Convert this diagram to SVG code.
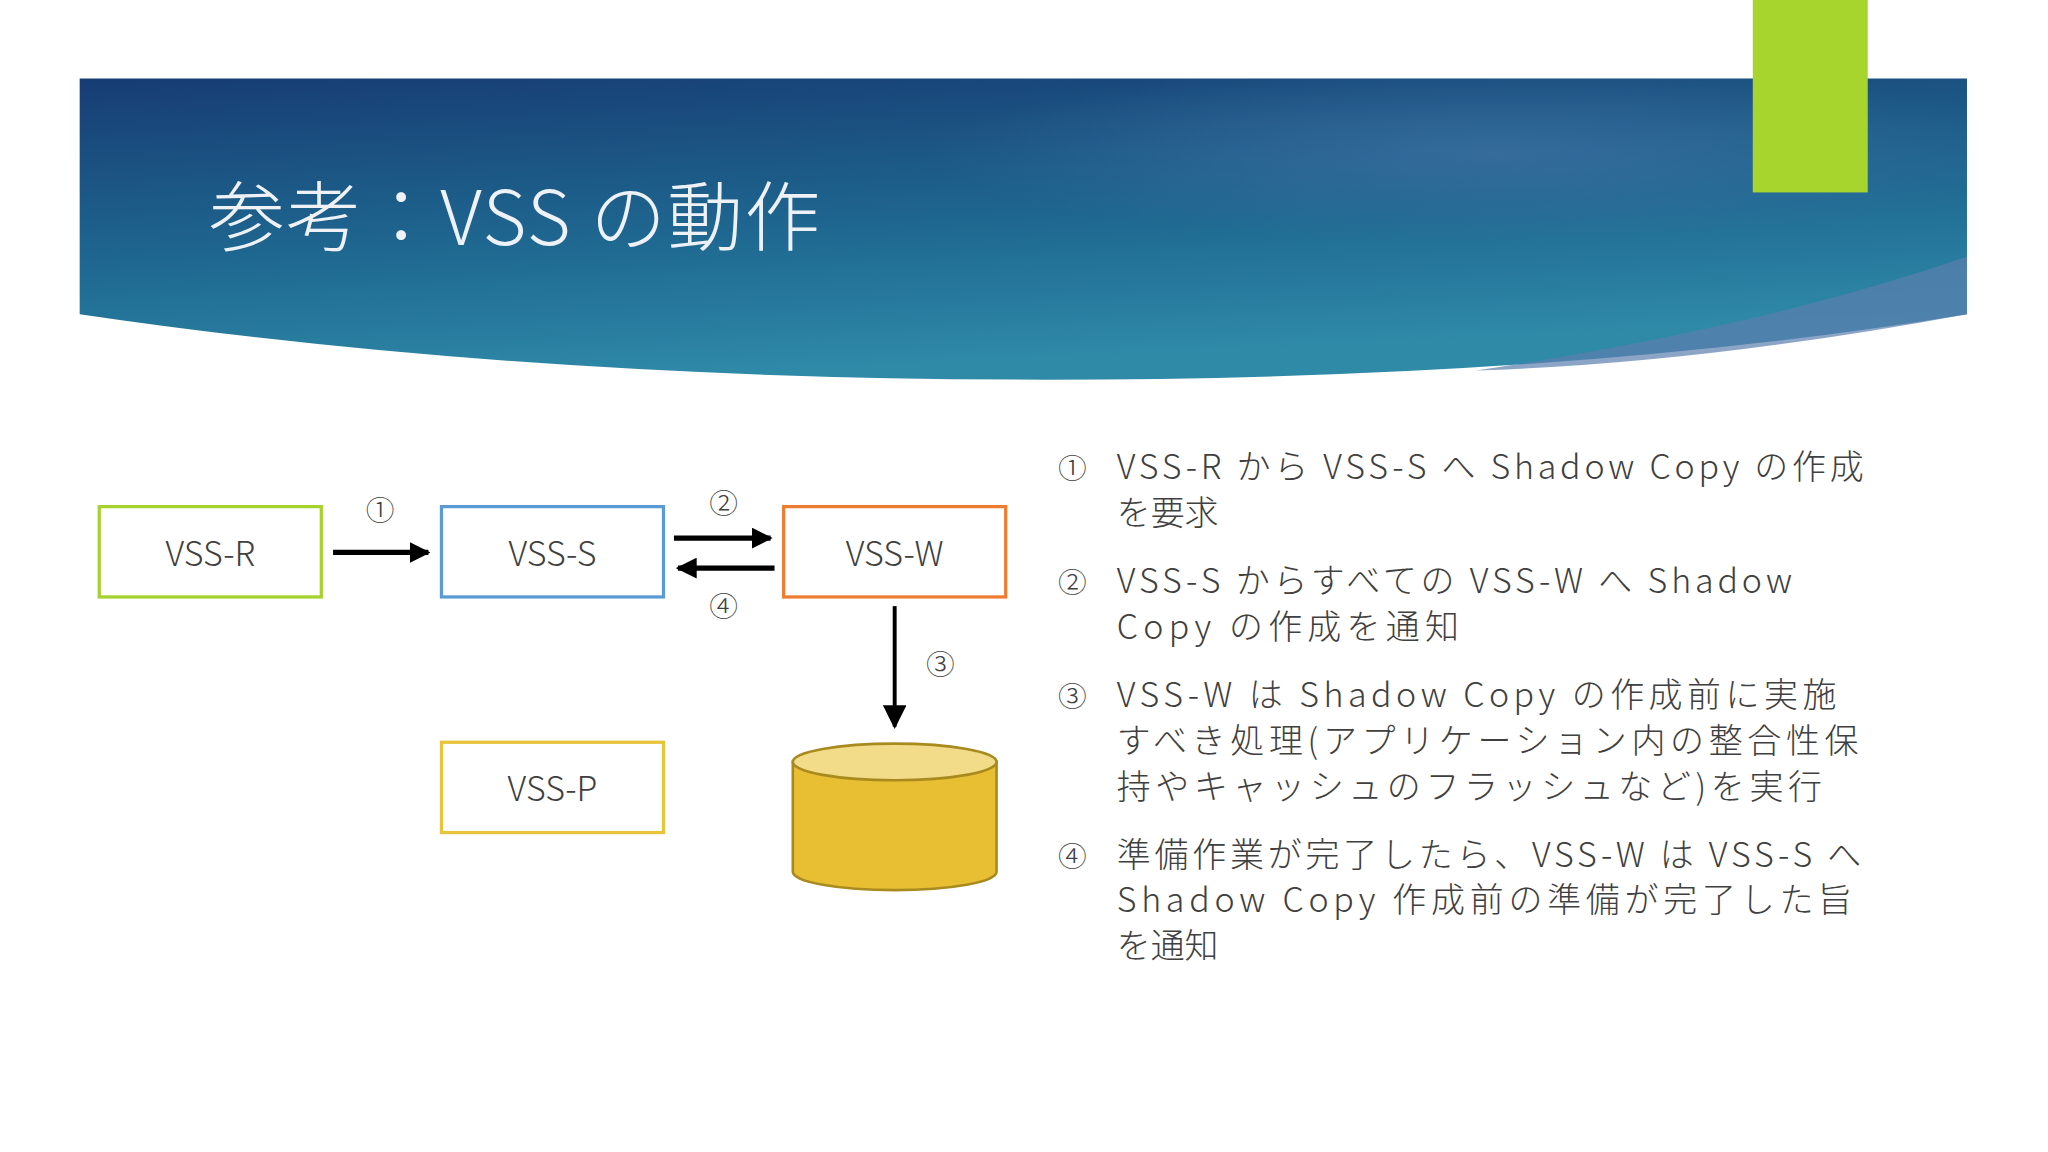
<svg xmlns="http://www.w3.org/2000/svg" width="2048" height="1152" viewBox="0 0 2048 1152">
<defs>
<linearGradient id="bg" x1="0" y1="0" x2="0.3" y2="1">
<stop offset="0" stop-color="#173d74"/><stop offset="0.6" stop-color="#1f6a92"/><stop offset="1" stop-color="#2f8aa8"/>
</linearGradient>
<radialGradient id="glow" cx="0.75" cy="0.25" r="0.3"><stop offset="0" stop-color="#3a6fa0" stop-opacity="0.8"/><stop offset="1" stop-color="#3a6fa0" stop-opacity="0"/></radialGradient>
<marker id="ah" viewBox="0 0 10 10" refX="9" refY="5" markerWidth="4" markerHeight="4" orient="auto"><path d="M0,0 L10,5 L0,10 z" fill="#000"/></marker>
<marker id="ah2" viewBox="0 0 10 10" refX="9" refY="5" markerWidth="6" markerHeight="6" orient="auto"><path d="M0,0 L10,5 L0,10 z" fill="#000"/></marker>
</defs>
<style>
.t{font-family:"Noto Sans CJK JP","Noto Sans",sans-serif;font-weight:300;fill:#404040}
.box{fill:#fff;stroke-width:2.5}
.c{stroke:#000;stroke-width:4;fill:none}
</style>
<rect width="2048" height="1152" fill="#fff"/>
<g transform="scale(1.3061,1.3091)">
<g id="banner">
<path d="M61,60 H1506 V240 Q1200,290 800,290 Q400,290 61,240 Z" fill="url(#bg)"/>
<path d="M61,60 H1506 V240 Q1200,290 800,290 Q400,290 61,240 Z" fill="url(#glow)"/>
<path d="M1130,283 Q1350,250 1506,196 V240 Q1300,278 1130,283 Z" fill="#5b7fae" opacity="0.7"/>
<rect x="1342" y="0" width="88" height="147" fill="#a8d42e"/>
<text x="160" y="187" font-family="Noto Sans CJK JP,sans-serif" font-weight="300" font-size="58" fill="#eef2f6" textLength="468">参考：VSS の動作</text>
</g>
<g id="vss-r"><rect class="box" x="76" y="387" width="170" height="69" stroke="#a6d22e"/><text class="t" x="161" y="432" font-size="26" text-anchor="middle" fill="#000">VSS-R</text></g>
<g id="vss-s"><rect class="box" x="338" y="387" width="170" height="69" stroke="#5b9bd5"/><text class="t" x="423" y="432" font-size="26" text-anchor="middle">VSS-S</text></g>
<g id="vss-w"><rect class="box" x="600" y="387" width="170" height="69" stroke="#ed7d31"/><text class="t" x="685" y="432" font-size="26" text-anchor="middle">VSS-W</text></g>
<g id="vss-p"><rect class="box" x="338" y="567" width="170" height="69" stroke="#e8c43a"/><text class="t" x="423" y="612" font-size="26" text-anchor="middle">VSS-P</text></g>
<g id="db">
<path d="M607,582 V666 A78,14 0 0 0 763,666 V582 Z" fill="#e8bf33" stroke="#a88a1e" stroke-width="2"/>
<ellipse cx="685" cy="582" rx="78" ry="14" fill="#f2dc8a" stroke="#a88a1e" stroke-width="2"/>
</g>
<g id="connectors">
<line class="c" x1="255" y1="422" x2="328" y2="422" marker-end="url(#ah)"/>
<line class="c" x1="516" y1="411" x2="590" y2="411" marker-end="url(#ah)"/>
<line class="c" x1="593" y1="434" x2="519" y2="434" marker-end="url(#ah)"/>
<line x1="685" y1="463" x2="685" y2="555" stroke="#000" stroke-width="3" marker-end="url(#ah2)"/>
<text class="t" x="291" y="398" font-size="22" text-anchor="middle" fill="#000">①</text>
<text class="t" x="554" y="393" font-size="22" text-anchor="middle" fill="#000">②</text>
<text class="t" x="554" y="471" font-size="22" text-anchor="middle" fill="#000">④</text>
<text class="t" x="720" y="516" font-size="22" text-anchor="middle" fill="#000">③</text>
</g>
<g id="notes" font-size="26">
<text class="t" x="810" y="366" font-size="22">①</text>
<text class="t" x="855" y="366" textLength="572">VSS-R から VSS-S へ Shadow Copy の作成</text>
<text class="t" x="855" y="401">を要求</text>
<text class="t" x="810" y="453" font-size="22">②</text>
<text class="t" x="855" y="453" textLength="517">VSS-S からすべての VSS-W へ Shadow</text>
<text class="t" x="855" y="488" textLength="262">Copy の作成を通知</text>
<text class="t" x="810" y="540" font-size="22">③</text>
<text class="t" x="855" y="540" textLength="551">VSS-W は Shadow Copy の作成前に実施</text>
<text class="t" x="855" y="575" textLength="568">すべき処理(アプリケーション内の整合性保</text>
<text class="t" x="855" y="610" textLength="540">持やキャッシュのフラッシュなど)を実行</text>
<text class="t" x="810" y="662" font-size="22">④</text>
<text class="t" x="855" y="662" textLength="570">準備作業が完了したら、VSS-W は VSS-S へ</text>
<text class="t" x="855" y="697" textLength="563">Shadow Copy 作成前の準備が完了した旨</text>
<text class="t" x="855" y="732">を通知</text>
</g>
</g>
</svg>
